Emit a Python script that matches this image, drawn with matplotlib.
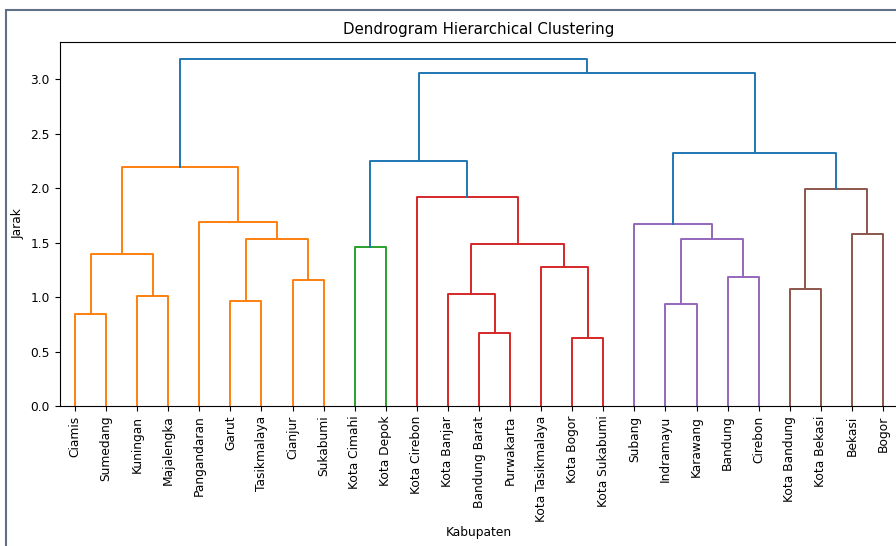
import matplotlib.pyplot as plt
from matplotlib.patches import Rectangle

# leaf order as shown on the x axis
labels = ['Ciamis', 'Sumedang', 'Kuningan', 'Majalengka', 'Pangandaran', 'Garut',
          'Tasikmalaya', 'Cianjur', 'Sukabumi', 'Kota Cimahi', 'Kota Depok',
          'Kota Cirebon', 'Kota Banjar', 'Bandung Barat', 'Purwakarta',
          'Kota Tasikmalaya', 'Kota Bogor', 'Kota Sukabumi', 'Subang', 'Indramayu',
          'Karawang', 'Bandung', 'Cirebon', 'Kota Bandung', 'Kota Bekasi', 'Bekasi',
          'Bogor']

# merges: (left, right, distance); ids >= len(labels) point to earlier merges
merges = [
    (0, 1, 0.843),    # 27
    (2, 3, 1.012),    # 28
    (27, 28, 1.401),  # 29
    (5, 6, 0.969),    # 30
    (7, 8, 1.159),    # 31
    (30, 31, 1.533),  # 32
    (4, 32, 1.693),   # 33
    (29, 33, 2.199),  # 34
    (9, 10, 1.460),   # 35
    (13, 14, 0.669),  # 36
    (12, 36, 1.028),  # 37
    (16, 17, 0.626),  # 38
    (15, 38, 1.273),  # 39
    (37, 39, 1.484),  # 40
    (11, 40, 1.923),  # 41
    (35, 41, 2.248),  # 42
    (19, 20, 0.935),  # 43
    (21, 22, 1.187),  # 44
    (43, 44, 1.533),  # 45
    (18, 45, 1.671),  # 46
    (23, 24, 1.073),  # 47
    (25, 26, 1.576),  # 48
    (47, 48, 1.996),  # 49
    (46, 49, 2.325),  # 50
    (42, 50, 3.058),  # 51
    (34, 51, 3.185),  # 52
]
link_colors = (['C1'] * 8 + ['C2'] + ['C3'] * 6 + ['C0'] + ['C4'] * 4
               + ['C5'] * 3 + ['C0'] * 3)

fig = plt.figure(figsize=(8.96, 5.46), dpi=100)
ax = fig.add_axes([59.5 / 896, 140 / 546, 839 / 896, 364 / 546])

n = len(labels)
xs = [5 + 10 * i for i in range(n)]
ys = [0.0] * n
for (a, b, h), c in zip(merges, link_colors):
    ax.plot([xs[a], xs[a], xs[b], xs[b]], [ys[a], h, h, ys[b]], color=c, lw=1.4)
    xs.append((xs[a] + xs[b]) / 2)
    ys.append(h)

top = max(m[2] for m in merges)
ax.set_xlim(0, 10 * n)
ax.set_ylim(0, top * 1.05)
ax.set_xticks(xs[:n])
ax.set_xticklabels(labels, rotation=90, fontsize=8.8)
ax.tick_params(axis='y', labelsize=8.8)
ax.set_title('Dendrogram Hierarchical Clustering', fontsize=10.8, pad=6)
ax.set_xlabel('Kabupaten', fontsize=8.8, labelpad=3)
ax.set_ylabel('Jarak', fontsize=8.8)

# frame of the notebook cell around the picture
fig.add_artist(Rectangle((6 / 896, -0.5), 2, (546 - 10) / 546 + 0.5,
                         transform=fig.transFigure, fill=False,
                         edgecolor='#5f7186', lw=1.5, clip_on=False))

fig.savefig('out.png', dpi=100)
